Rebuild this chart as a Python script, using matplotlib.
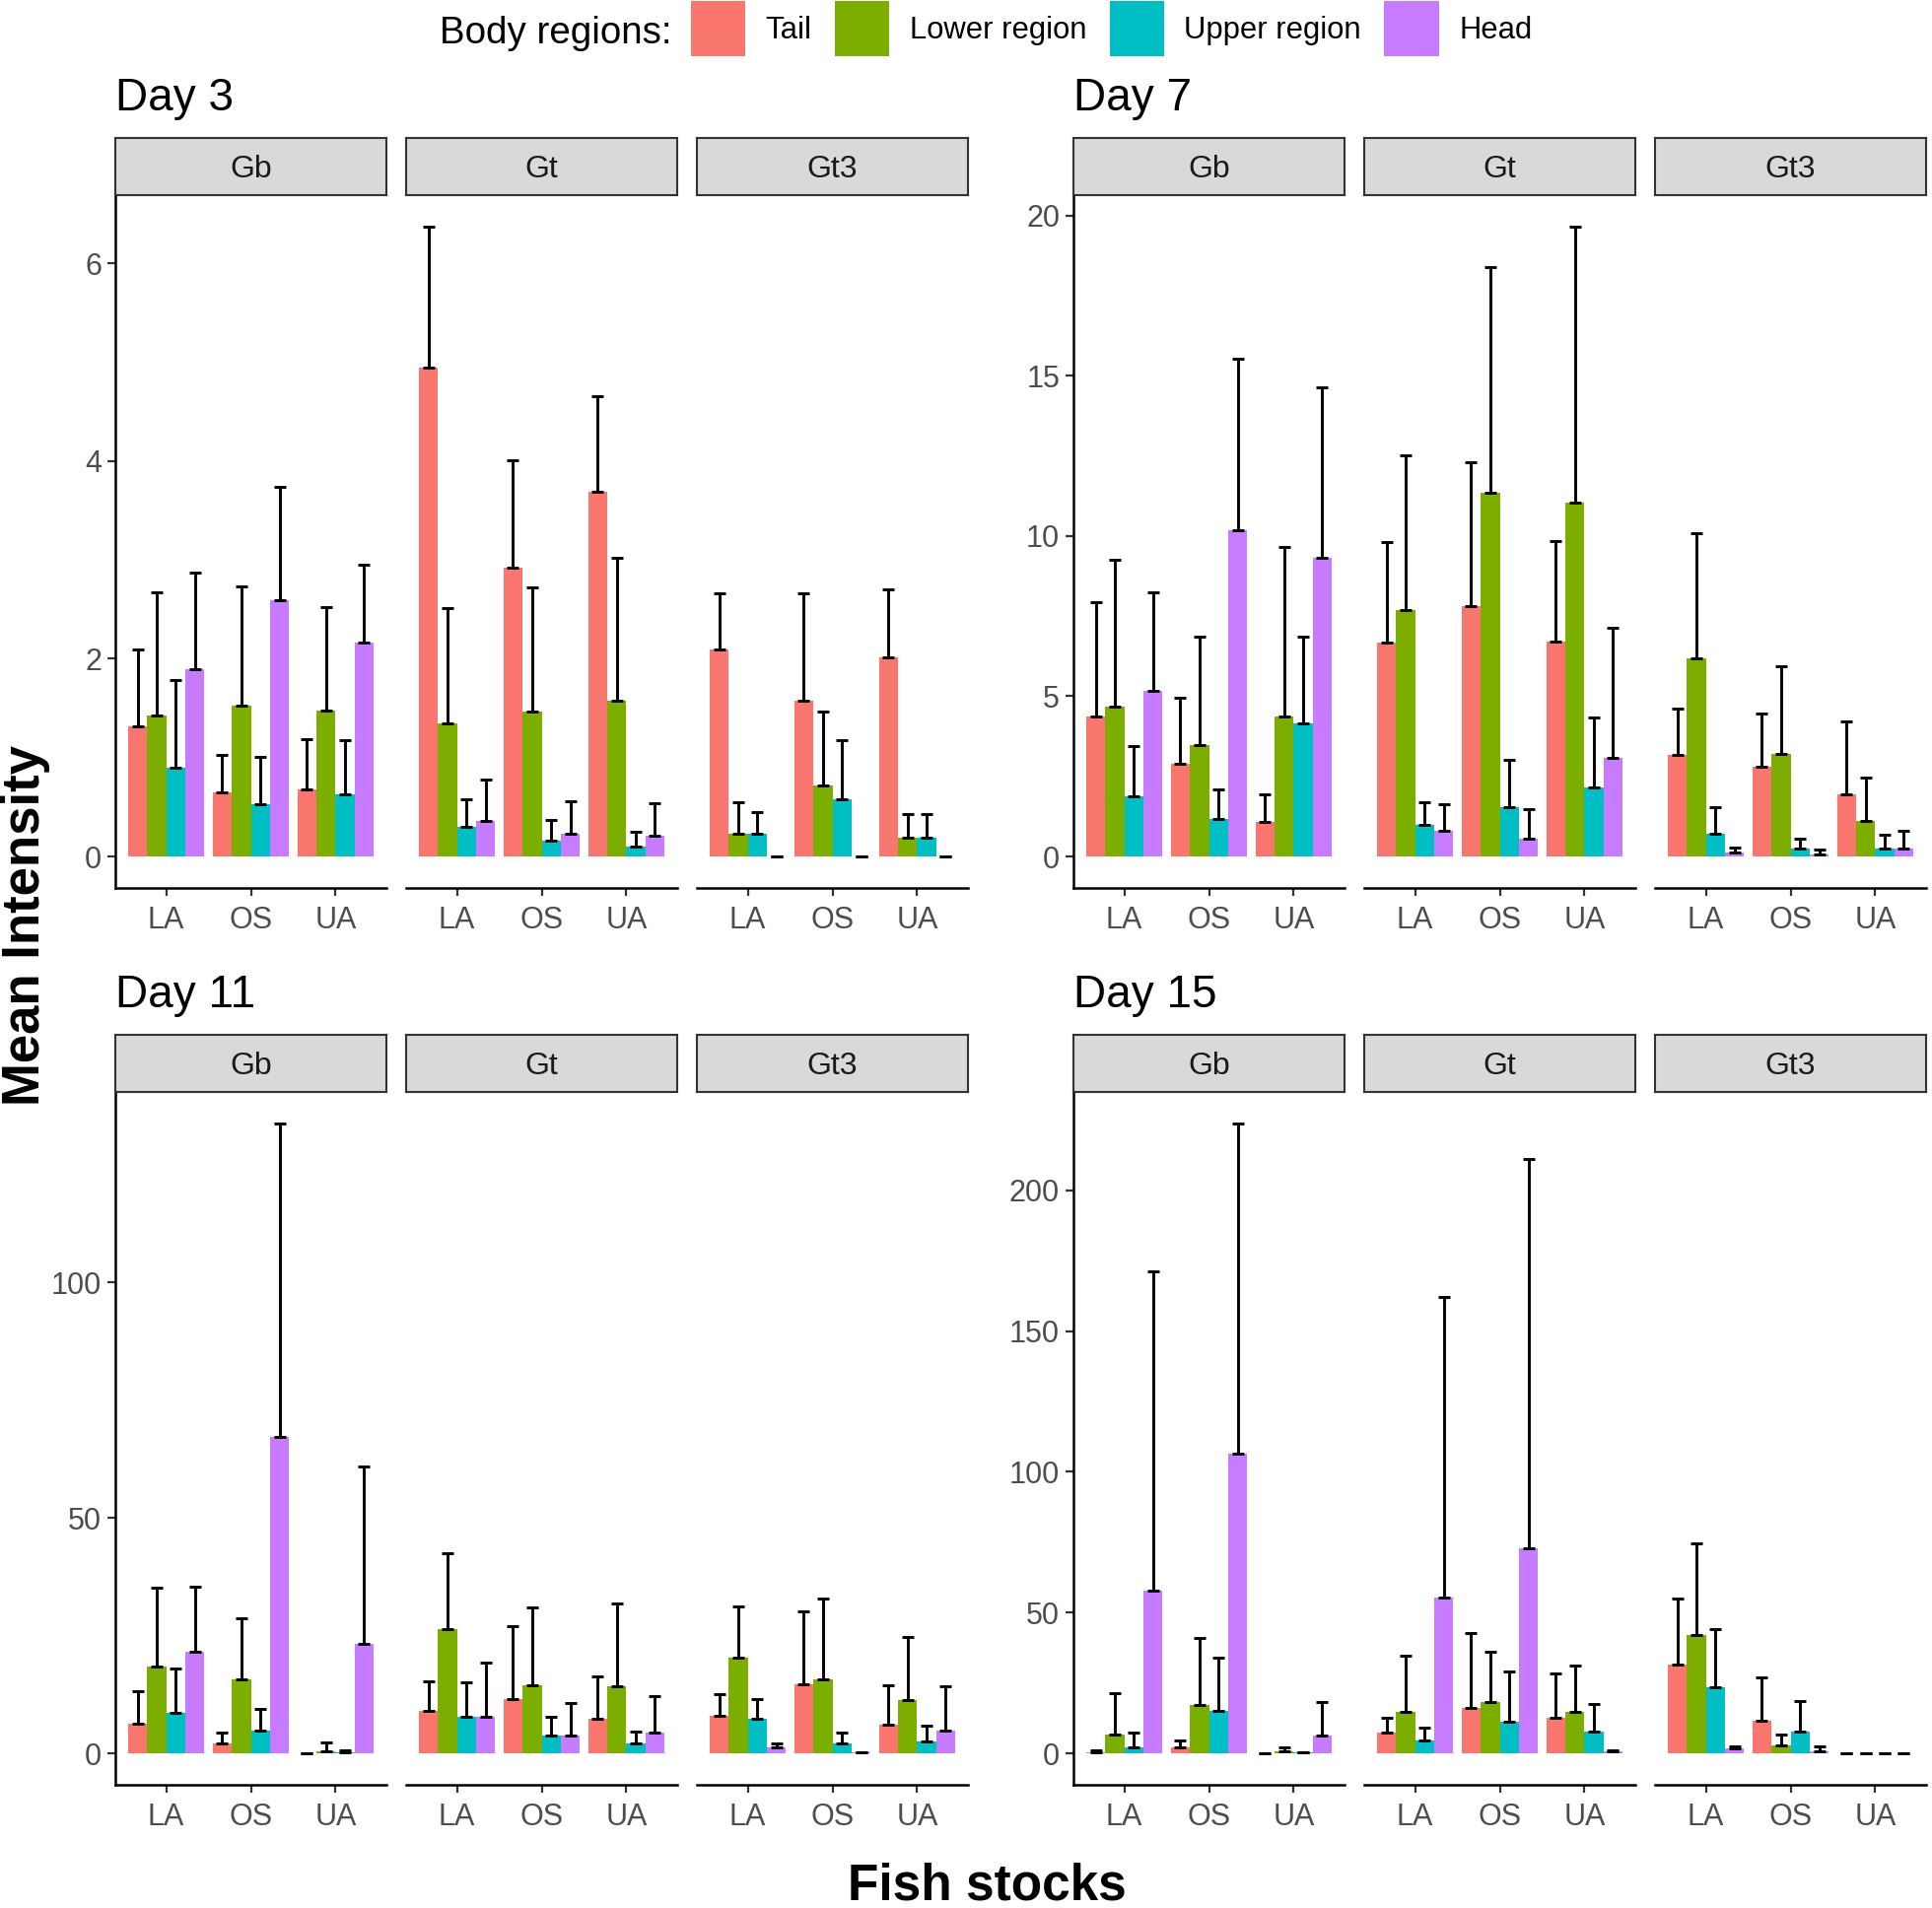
import numpy as np
import matplotlib
matplotlib.use("Agg")
import matplotlib.pyplot as plt
from matplotlib.patches import Patch

plt.rcParams['font.family'] = ['Liberation Sans', 'DejaVu Sans']

# categories
days    = ["Day 3", "Day 7", "Day 11", "Day 15"]
stocks  = ["Gb", "Gt", "Gt3"]
sites   = ["LA", "OS", "UA"]
regions = ["Tail", "Lower region", "Upper region", "Head"]
colors  = ["#F8766D", "#7CAE00", "#00BFC4", "#C77CFF"]

# mean[stock][site][region], sd same shape (bars show mean, whisker up to mean + sd)
day3_mean = [[[1.32, 1.43, 0.90, 1.89], [0.65, 1.53, 0.53, 2.59], [0.68, 1.48, 0.63, 2.16]],
             [[4.94, 1.35, 0.30, 0.36], [2.92, 1.47, 0.155, 0.23], [3.69, 1.58, 0.10, 0.21]],
             [[2.09, 0.23, 0.23, 0.00], [1.58, 0.72, 0.58, 0.00], [2.01, 0.19, 0.19, 0.00]]]
day3_sd   = [[[0.77, 1.24, 0.88, 0.98], [0.38, 1.20, 0.48, 1.15], [0.51, 1.04, 0.55, 0.79]],
             [[1.43, 1.16, 0.28, 0.42], [1.09, 1.25, 0.21, 0.33], [0.97, 1.44, 0.15, 0.33]],
             [[0.57, 0.32, 0.22, 0.00], [1.08, 0.75, 0.60, 0.00], [0.69, 0.24, 0.24, 0.00]]]

day7_mean = [[[4.37, 4.68, 1.89, 5.17], [2.88, 3.48, 1.17, 10.18], [1.07, 4.37, 4.14, 9.32]],
             [[6.67, 7.69, 0.99, 0.81], [7.81, 11.35, 1.53, 0.56], [6.71, 11.05, 2.16, 3.08]],
             [[3.18, 6.19, 0.71, 0.12], [2.80, 3.20, 0.26, 0.07], [1.93, 1.10, 0.26, 0.26]]]
day7_sd   = [[[3.57, 4.58, 1.54, 3.07], [2.06, 3.39, 0.92, 5.36], [0.87, 5.28, 2.73, 5.31]],
             [[3.13, 4.83, 0.69, 0.82], [4.50, 7.05, 1.47, 0.91], [3.14, 8.60, 2.19, 4.04]],
             [[1.43, 3.91, 0.82, 0.16], [1.66, 2.73, 0.28, 0.16], [2.29, 1.37, 0.42, 0.55]]]

day11_mean = [[[6.2, 18.4, 8.6, 21.5], [2.2, 15.7, 4.8, 67.2], [0.0, 0.5, 0.2, 23.2]],
              [[9.0, 26.3, 7.7, 7.7], [11.5, 14.5, 3.7, 3.7], [7.3, 14.2, 2.0, 4.3]],
              [[8.0, 20.4, 7.3, 1.3], [14.6, 15.7, 2.0, 0.2], [6.1, 11.4, 2.5, 4.8]]]
day11_sd   = [[[6.9, 16.8, 9.3, 13.8], [2.1, 12.9, 4.6, 66.5], [0.0, 1.8, 0.4, 37.7]],
              [[6.2, 16.2, 7.4, 11.6], [15.4, 16.4, 4.1, 7.0], [9.0, 17.6, 2.6, 7.9]],
              [[4.6, 10.7, 4.3, 0.9], [15.5, 17.1, 2.3, 0.0], [8.4, 13.2, 3.4, 9.5]]]

day15_mean = [[[0.5, 6.8, 2.2, 57.9], [2.2, 17.1, 15.1, 106.3], [0.0, 0.8, 0.2, 6.2]],
              [[7.2, 14.7, 4.6, 55.3], [16.1, 18.1, 11.3, 72.8], [12.7, 14.7, 7.6, 0.6]],
              [[31.6, 42.0, 23.5, 1.6], [11.7, 2.8, 7.8, 0.8], [0.0, 0.0, 0.0, 0.0]]]
day15_sd   = [[[0.5, 14.7, 5.2, 113.4], [2.2, 23.7, 18.9, 117.4], [0.0, 1.2, 0.0, 11.9]],
              [[5.5, 19.9, 4.4, 106.7], [26.5, 17.9, 17.6, 138.3], [15.6, 16.3, 9.9, 0.6]],
              [[23.3, 32.4, 20.5, 1.0], [15.2, 3.8, 10.7, 1.8], [0.0, 0.0, 0.0, 0.0]]]

day_ticks = [[0, 2, 4, 6], [0, 5, 10, 15, 20], [0, 50, 100], [0, 50, 100, 150, 200]]

means = [day3_mean, day7_mean, day11_mean, day15_mean]
sds   = [day3_sd, day7_sd, day11_sd, day15_sd]

# layout in pixels
W, H = 1960, 1936
col_x   = [[117, 412, 707], [1089, 1384, 1679]]
panel_w = 275
row_y   = [(140, 198, 901), (1050, 1108, 1811)]   # strip top, strip bottom / panel top, axis

def fig_rect(x0, y0, w, h):
    return [x0 / W, 1 - (y0 + h) / H, w / W, h / H]

fig = plt.figure(figsize=(W / 100, H / 100), dpi=100)

tick_fs  = 22
strip_fs = 23
lw_axis  = 1.8

bar_w   = 0.9 / 4
offsets = (np.arange(4) - 1.5) * bar_w
xpos    = np.arange(1, 4)

for d, day in enumerate(days):
    r, c = divmod(d, 2)
    st_top, p_top, p_bot = row_y[r]
    m_all = np.array(means[d])
    s_all = np.array(sds[d])
    top = (m_all + s_all).max()
    ylim = (-0.05 * top, 1.05 * top)

    for s, stock in enumerate(stocks):
        x0 = col_x[c][s]
        ax = fig.add_axes(fig_rect(x0, p_top, panel_w, p_bot - p_top))
        for k in range(4):
            vals = m_all[s, :, k]
            errs = s_all[s, :, k]
            ax.bar(xpos + offsets[k], vals, width=bar_w, color=colors[k], linewidth=0, zorder=2)
            ax.errorbar(xpos + offsets[k], vals, yerr=[np.zeros_like(errs), errs],
                        fmt='none', ecolor='black', elinewidth=2.1, capsize=4.2,
                        capthick=2.1, zorder=3)
        ax.set_xlim(0.4, 3.6)
        ax.set_ylim(*ylim)
        ax.set_xticks(xpos)
        ax.set_xticklabels(sites)
        ax.spines['top'].set_visible(False)
        ax.spines['right'].set_visible(False)
        ax.spines['bottom'].set_linewidth(lw_axis)
        ax.spines['left'].set_linewidth(lw_axis)
        ax.tick_params(axis='x', length=6, width=1.6, color='#333333',
                       labelsize=tick_fs, labelcolor='#4D4D4D', pad=7)
        if s == 0:
            ax.set_yticks(day_ticks[d])
            ax.tick_params(axis='y', length=6, width=1.6, color='#333333',
                           labelsize=tick_fs, labelcolor='#4D4D4D', pad=4)
        else:
            ax.spines['left'].set_visible(False)
            ax.set_yticks([])

        # facet strip
        sax = fig.add_axes(fig_rect(x0, st_top, panel_w, p_top - st_top))
        sax.set_facecolor('#D9D9D9')
        sax.set_xticks([])
        sax.set_yticks([])
        for sp in sax.spines.values():
            sp.set_color('#333333')
            sp.set_linewidth(1.5)
        sax.text(0.5, 0.45, stock, ha='center', va='center', fontsize=strip_fs,
                 color='#1A1A1A', transform=sax.transAxes)

    # day title
    fig.text(col_x[c][0] / W, 1 - (st_top - 28) / H, day, fontsize=33,
             ha='left', va='baseline', color='black')

# axis labels
fig.text(26 / W, 1 - 939 / H, "Mean Intensity", rotation=90, fontsize=38,
         fontweight='bold', ha='center', va='center')
fig.text(1001 / W, 1 - 1927 / H, "Fish stocks", fontsize=37,
         fontweight='bold', ha='center', va='baseline')

# legend
fig.text(681 / W, 1 - 44 / H, "Body regions:", fontsize=27.7, ha='right', va='baseline')
handles = [Patch(facecolor=col, edgecolor='none', label=lab) for col, lab in zip(colors, regions)]
fig.legend(handles=handles, loc='upper left', bbox_to_anchor=(701 / W, 1 - 1 / H),
           ncol=4, frameon=False, fontsize=22.3, handlelength=1.78, handleheight=2.41,
           handletextpad=0.66, columnspacing=0.76, borderpad=0, borderaxespad=0)

fig.savefig("out.png", dpi=100)
